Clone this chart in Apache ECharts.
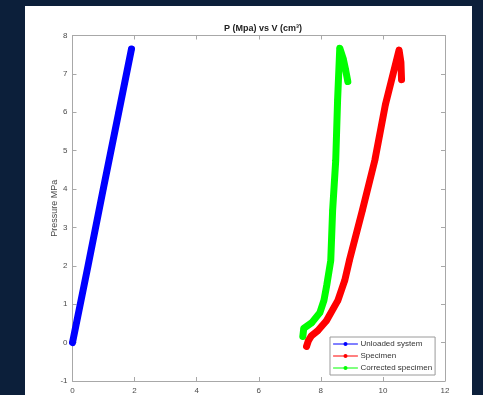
<!DOCTYPE html>
<html>
<head>
<meta charset="utf-8">
<script src="https://cdn.jsdelivr.net/npm/echarts@6/dist/echarts.min.js"></script>
<style>
  html, body { margin: 0; padding: 0; width: 483px; height: 395px; overflow: hidden; background: #0c1f3a; }
  #panel { position: absolute; left: 25px; top: 6px; width: 447px; height: 400px; background: #ffffff; }
  #chart { position: absolute; left: 0; top: 0; width: 483px; height: 395px; }
</style>
</head>
<body>
<div id="panel"></div>
<div id="chart"></div>
<script>
// Volume (cm^3) and pressure (MPa) readings for each run
const unloadedV = [0.00, 0.50, 0.99, 1.49, 1.90];
const unloadedP = [0.00, 2.00, 4.00, 6.00, 7.65];

const specimenV = [7.54, 7.60, 7.70, 7.90, 8.18, 8.55, 8.77, 8.92, 9.34, 9.74, 10.08, 10.52, 10.58, 10.60];
const specimenP = [-0.10, 0.05, 0.18, 0.31, 0.57, 1.10, 1.62, 2.14, 3.45, 4.75, 6.20, 7.62, 7.30, 6.85];

const correctedV = [7.42, 7.45, 7.71, 7.97, 8.10, 8.19, 8.32, 8.38, 8.48, 8.54, 8.61, 8.72, 8.80, 8.87];
const correctedP = [0.16, 0.37, 0.52, 0.78, 1.10, 1.49, 2.14, 3.45, 4.75, 6.32, 7.67, 7.40, 7.10, 6.80];

const xTicks = [0, 2, 4, 6, 8, 10, 12];
const yTicks = [-1, 0, 1, 2, 3, 4, 5, 6, 7, 8];

const seriesNames = ['Unloaded system', 'Specimen', 'Corrected specimen'];
const seriesColors = ['#0000ff', '#ff0000', '#00ff00'];

const pair = (xs, ys) => xs.map((x, i) => [x, ys[i]]);

const axisGray = '#a8a8a8';
const labelColor = '#4a4a4a';

const chart = echarts.init(document.getElementById('chart'), null, { renderer: 'canvas' });

function makeSeries(name, color, data) {
  return {
    name: name,
    type: 'line',
    data: data,
    xAxisIndex: 0,
    yAxisIndex: 0,
    symbol: 'circle',
    symbolSize: 6,
    showSymbol: true,
    itemStyle: { color: color },
    lineStyle: { color: color, width: 7, cap: 'round', join: 'round' },
    emphasis: { disabled: true },
    animation: false
  };
}

chart.setOption({
  backgroundColor: 'transparent',
  animation: false,
  title: {
    text: 'P (Mpa) vs V (cm³)',
    left: 258,
    textAlign: 'center',
    top: 19,
    textStyle: { fontFamily: 'Liberation Sans, Arial', fontSize: 9, fontWeight: 'bold', color: '#222' }
  },
  grid: { left: 72.5, right: 38, top: 35.5, bottom: 13.5, containLabel: false },
  legend: {
    data: seriesNames,
    orient: 'vertical',
    left: 330,
    top: 337,
    width: 104,
    padding: [3, 3, 3, 3],
    itemGap: 4,
    itemWidth: 24,
    itemHeight: 5,
    backgroundColor: '#ffffff',
    borderColor: '#9a9a9a',
    borderWidth: 1,
    borderRadius: 0,
    lineStyle: { width: 1 },
    itemStyle: { borderWidth: 0 },
    textStyle: { fontFamily: 'Liberation Sans, Arial', fontSize: 8, color: '#333', padding: [0, 0, 0, -2] }
  },
  xAxis: [
    {
      type: 'value', min: xTicks[0], max: xTicks[xTicks.length - 1], interval: 2,
      position: 'bottom',
      axisLine: { show: true, onZero: false, lineStyle: { color: axisGray, width: 1 } },
      axisTick: { show: true, inside: true, length: 4, lineStyle: { color: axisGray } },
      axisLabel: { color: labelColor, fontSize: 8, fontFamily: 'Liberation Sans, Arial', margin: 6 },
      splitLine: { show: false }
    },
    {
      type: 'value', min: xTicks[0], max: xTicks[xTicks.length - 1], interval: 2,
      position: 'top',
      axisLine: { show: true, onZero: false, lineStyle: { color: axisGray, width: 1 } },
      axisTick: { show: true, inside: true, length: 4, lineStyle: { color: axisGray } },
      axisLabel: { show: false },
      splitLine: { show: false }
    }
  ],
  yAxis: [
    {
      type: 'value', min: yTicks[0], max: yTicks[yTicks.length - 1], interval: 1,
      position: 'left',
      name: 'Pressure MPa',
      nameLocation: 'middle',
      nameGap: 13,
      nameMoveOverlap: false,
      nameTextStyle: { color: labelColor, fontSize: 9, fontFamily: 'Liberation Sans, Arial' },
      axisLine: { show: true, onZero: false, lineStyle: { color: axisGray, width: 1 } },
      axisTick: { show: true, inside: true, length: 4, lineStyle: { color: axisGray } },
      axisLabel: { color: labelColor, fontSize: 8, fontFamily: 'Liberation Sans, Arial', margin: 5 },
      splitLine: { show: false }
    },
    {
      type: 'value', min: yTicks[0], max: yTicks[yTicks.length - 1], interval: 1,
      position: 'right',
      axisLine: { show: true, onZero: false, lineStyle: { color: axisGray, width: 1 } },
      axisTick: { show: true, inside: true, length: 4, lineStyle: { color: axisGray } },
      axisLabel: { show: false },
      splitLine: { show: false }
    }
  ],
  series: [
    makeSeries(seriesNames[0], seriesColors[0], pair(unloadedV, unloadedP)),
    makeSeries(seriesNames[1], seriesColors[1], pair(specimenV, specimenP)),
    makeSeries(seriesNames[2], seriesColors[2], pair(correctedV, correctedP))
  ]
});
</script>
</body>
</html>
